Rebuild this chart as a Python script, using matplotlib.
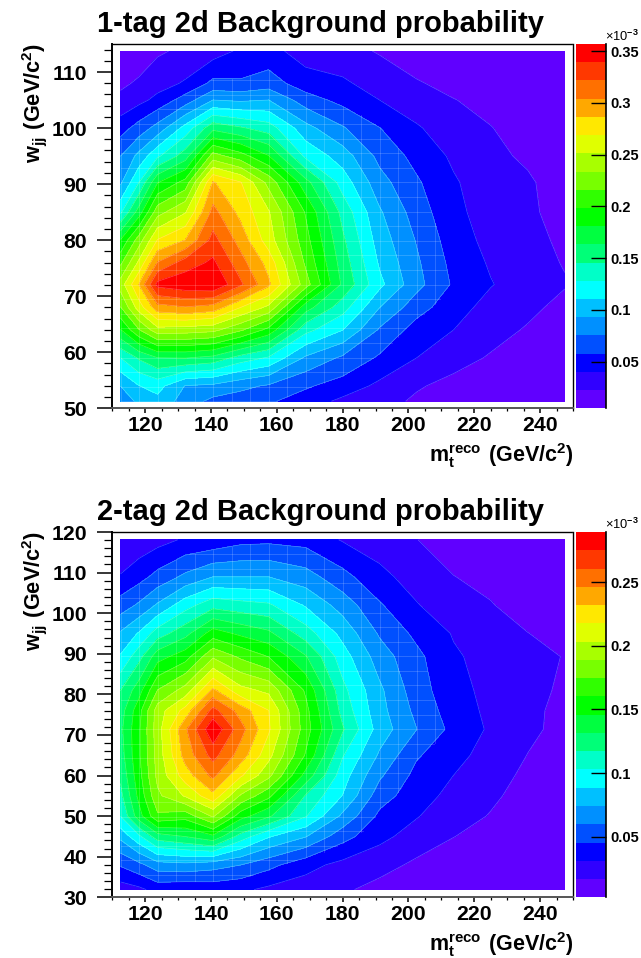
import numpy as np
import matplotlib
matplotlib.use("Agg")
import matplotlib.pyplot as plt
from matplotlib.colors import ListedColormap, BoundaryNorm
from matplotlib.ticker import MultipleLocator

plt.rcParams['font.family'] = ['Liberation Sans', 'DejaVu Sans']
plt.rcParams['font.weight'] = 'bold'
plt.rcParams['mathtext.fontset'] = 'custom'
plt.rcParams['mathtext.bf'] = 'Liberation Sans:bold'
plt.rcParams['mathtext.rm'] = 'Liberation Sans:bold'

W, H = 641, 958

# nodes
x_nodes = [112.5, 118.1, 123.75, 132.2, 140.6, 149, 157.5, 168.75, 180, 191.25, 202.5, 213.75, 225, 236.25, 247.5]
y1_nodes = [51.25, 54, 59, 64, 68, 72.1, 76, 80, 85, 90.3, 95, 100, 105, 108, 113.75]
y2_nodes = [31.9, 38, 45, 50, 55, 60, 65, 71.4, 76, 81, 89.3, 95, 102, 109, 118.1]

# 1-tag probability (x 1e-3), one list per x node, bottom to top
z1_cols = [
    [.078, .093, .128, .18, .215, .242, .212, .182, .125, .09, .075, .05, .027, .019, .01],
    [.098, .11, .148, .215, .26, .287, .255, .225, .172, .128, .098, .065, .035, .025, .012],
    [.105, .117, .163, .245, .297, .345, .305, .27, .227, .18, .125, .082, .045, .033, .02],
    [.085, .092, .164, .243, .303, .352, .33, .287, .25, .205, .155, .117, .066, .042, .026],
    [.07, .089, .158, .239, .297, .356, .343, .328, .31, .288, .224, .158, .093, .062, .032],
    [.066, .08, .138, .219, .269, .325, .311, .297, .281, .27, .206, .148, .09, .06, .043],
    [.06, .073, .126, .193, .247, .29, .28, .26, .253, .228, .182, .137, .093, .066, .046],
    [.049, .06, .09, .134, .171, .224, .213, .205, .197, .17, .124, .099, .066, .048, .032],
    [.036, .05, .072, .111, .136, .16, .155, .149, .14, .12, .102, .077, .052, .043, .028],
    [.028, .036, .055, .073, .093, .115, .108, .102, .095, .082, .07, .058, .04, .032, .021],
    [.02, .024, .04, .05, .065, .081, .078, .074, .067, .06, .052, .042, .03, .024, .012],
    [.012, .018, .028, .04, .047, .055, .052, .048, .044, .042, .037, .03, .023, .017, .008],
    [.008, .012, .021, .028, .034, .041, .038, .035, .033, .03, .026, .023, .017, .012, .007],
    [.007, .009, .014, .021, .026, .031, .028, .027, .025, .0245, .02, .015, .011, .009, .006],
    [.006, .007, .01, .014, .018, .0235, .0215, .0195, .017, .015, .013, .011, .009, .007, .005],
]

# 2-tag probability (x 1e-3)
z2_cols = [
    [.024, .047, .078, .103, .113, .12, .125, .128, .125, .117, .09, .076, .052, .032, .02],
    [.028, .056, .1, .14, .15, .155, .158, .158, .155, .14, .112, .09, .062, .04, .022],
    [.036, .068, .125, .172, .186, .193, .195, .197, .196, .175, .14, .11, .076, .05, .026],
    [.034, .07, .132, .166, .205, .225, .238, .244, .223, .195, .154, .127, .097, .063, .033],
    [.036, .066, .143, .191, .228, .25, .266, .287, .266, .235, .187, .153, .112, .074, .035],
    [.034, .06, .111, .152, .187, .22, .24, .252, .24, .208, .172, .143, .108, .074, .041],
    [.028, .05, .09, .134, .164, .193, .208, .22, .218, .2, .16, .135, .105, .074, .042],
    [.024, .036, .075, .104, .116, .141, .159, .167, .165, .158, .133, .11, .087, .066, .04],
    [.019, .027, .051, .071, .088, .095, .104, .119, .112, .107, .095, .084, .068, .05, .03],
    [.012, .022, .035, .042, .052, .062, .072, .082, .079, .077, .067, .058, .047, .035, .024],
    [.008, .014, .025, .032, .037, .041, .047, .06, .056, .052, .049, .042, .032, .025, .017],
    [.006, .01, .017, .022, .027, .031, .036, .041, .038, .036, .033, .03, .022, .017, .01],
    [.005, .007, .012, .016, .019, .022, .025, .029, .028, .027, .026, .022, .0175, .013, .008],
    [.004, .005, .008, .01, .012, .014, .0165, .0195, .02, .021, .024, .017, .011, .008, .006],
    [.003, .004, .005, .006, .008, .01, .012, .013, .013, .0145, .0158, .012, .009, .007, .005],
]

band_colors = ['#6000ff', '#3000ff', '#0000ff', '#0050ff', '#0090ff', '#00c0ff', '#00ffff',
               '#00ffc8', '#00ff78', '#00ff40', '#00ff00', '#30ff00', '#78ff00', '#a8ff00',
               '#e0ff00', '#ffe800', '#ffa800', '#ff7000', '#ff3800', '#ff0000']

z1_range = (0.0048, 0.357)
z2_range = (0.0024, 0.2895)
cb1_ticks = [0.05, 0.1, 0.15, 0.2, 0.25, 0.3, 0.35]
cb2_ticks = [0.05, 0.1, 0.15, 0.2, 0.25]
y1_lim = (50, 115)
y2_lim = (30, 120)
titles = ["1-tag 2d Background probability", "2-tag 2d Background probability"]


def px_axes(fig, l, t, r, b):
    return fig.add_axes([l / W, 1 - b / H, (r - l) / W, (b - t) / H])


def faint_grid(ax, x, y, z, thresh):
    # thin pale lines along the histogram bins, only where there is some signal
    gx = np.linspace(x[0], x[-1], 25)
    gy = np.linspace(y[0], y[-1], 25)
    fine_x = np.linspace(x[0], x[-1], 300)
    fine_y = np.linspace(y[0], y[-1], 300)
    for g in gx:
        col = [np.interp(g, x, z[j, :]) for j in range(len(y))]
        v = np.interp(fine_y, y, col)
        ax.plot(np.ma.masked_where(v < thresh, np.full_like(fine_y, g)), fine_y, color='white', lw=0.6, alpha=0.2)
    for g in gy:
        row = [np.interp(g, y, z[:, i]) for i in range(len(x))]
        v = np.interp(fine_x, x, row)
        ax.plot(fine_x, np.ma.masked_where(v < thresh, np.full_like(fine_x, g)), color='white', lw=0.6, alpha=0.2)


def panel(fig, top, bottom, y_nodes, z_cols, z_range, ylim, yminor, cb_ticks, title):
    z = np.array(z_cols).T
    levels = np.linspace(z_range[0], z_range[1], 21)
    cmap = ListedColormap(band_colors)
    norm = BoundaryNorm(levels, 20)

    ax = px_axes(fig, 112.3, top, 573, bottom)
    ax.contourf(x_nodes, y_nodes, z, levels=levels, cmap=cmap, norm=norm)
    ax.contour(x_nodes, y_nodes, z, levels=levels[1:-1], colors='white', linewidths=0.5, alpha=0.3)
    faint_grid(ax, np.array(x_nodes), np.array(y_nodes), z, levels[3])

    ax.set_xlim(110, 250)
    ax.set_ylim(*ylim)
    ax.xaxis.set_major_locator(MultipleLocator(20))
    ax.xaxis.set_minor_locator(MultipleLocator(5))
    ax.yaxis.set_major_locator(MultipleLocator(10))
    ax.yaxis.set_minor_locator(MultipleLocator(yminor))
    ax.tick_params(axis='x', which='major', length=3.8, width=1.1, labelsize=15.3, pad=1.5)
    ax.tick_params(axis='x', which='minor', length=2.4, width=0.9)
    ax.tick_params(axis='y', which='major', length=10.8, width=1.1, labelsize=15.3, pad=7.5)
    ax.tick_params(axis='y', which='minor', length=5.8, width=0.9)
    for lab in ax.get_xticklabels() + ax.get_yticklabels():
        lab.set_fontweight('bold')

    for s in ('left', 'bottom'):
        ax.spines[s].set_linewidth(1.4)
    ax.spines['bottom'].set_color('#555555')
    for s in ('top', 'right'):
        ax.spines[s].set_linewidth(1.0)
        ax.spines[s].set_linestyle((0, (1, 1)))

    fig.text(97 / W, 1 - (top - 12) / H, title, fontsize=21, fontweight='bold', ha='left', va='baseline')
    fig.text(573 / W, 1 - (bottom + 54) / H, r'$\mathbf{m_{t}^{reco}\ (GeV/c^{2})}$', fontsize=15.5,
             ha='right', va='baseline')
    fig.text(35 / W, 1 - (top - 1) / H, r'$\mathbf{w_{jj}\ (GeV/c^{2})}$', fontsize=15.7,
             rotation=90, ha='center', va='top')

    # colour scale
    cax = px_axes(fig, 576, top, 606.3, bottom)
    cax.pcolormesh([0, 1], levels, np.arange(20).reshape(-1, 1), cmap=cmap, shading='flat')
    cax.set_xlim(0, 1)
    cax.set_ylim(z_range)
    cax.set_xticks([])
    cax.yaxis.tick_right()
    cax.set_yticks(cb_ticks)
    cax.set_yticklabels([f'{t:g}' for t in cb_ticks], fontsize=10.5, fontweight='bold')
    cax.tick_params(axis='y', direction='in', length=10.8, width=1.0, pad=3)
    for s in ('top', 'left', 'bottom'):
        cax.spines[s].set_visible(False)
    cax.spines['right'].set_linewidth(1.2)
    fig.text(605 / W, 1 - (top - 3) / H, '\u00d710$^{-3}$', fontsize=9.3, ha='left', va='baseline',
             fontweight='normal')


fig = plt.figure(figsize=(W / 100, H / 100), dpi=100)
panel(fig, 44, 408.3, y1_nodes, z1_cols, z1_range, y1_lim, 2, cb1_ticks, titles[0])
panel(fig, 532, 897.3, y2_nodes, z2_cols, z2_range, y2_lim, 2, cb2_ticks, titles[1])
fig.savefig("out.png", dpi=100)
